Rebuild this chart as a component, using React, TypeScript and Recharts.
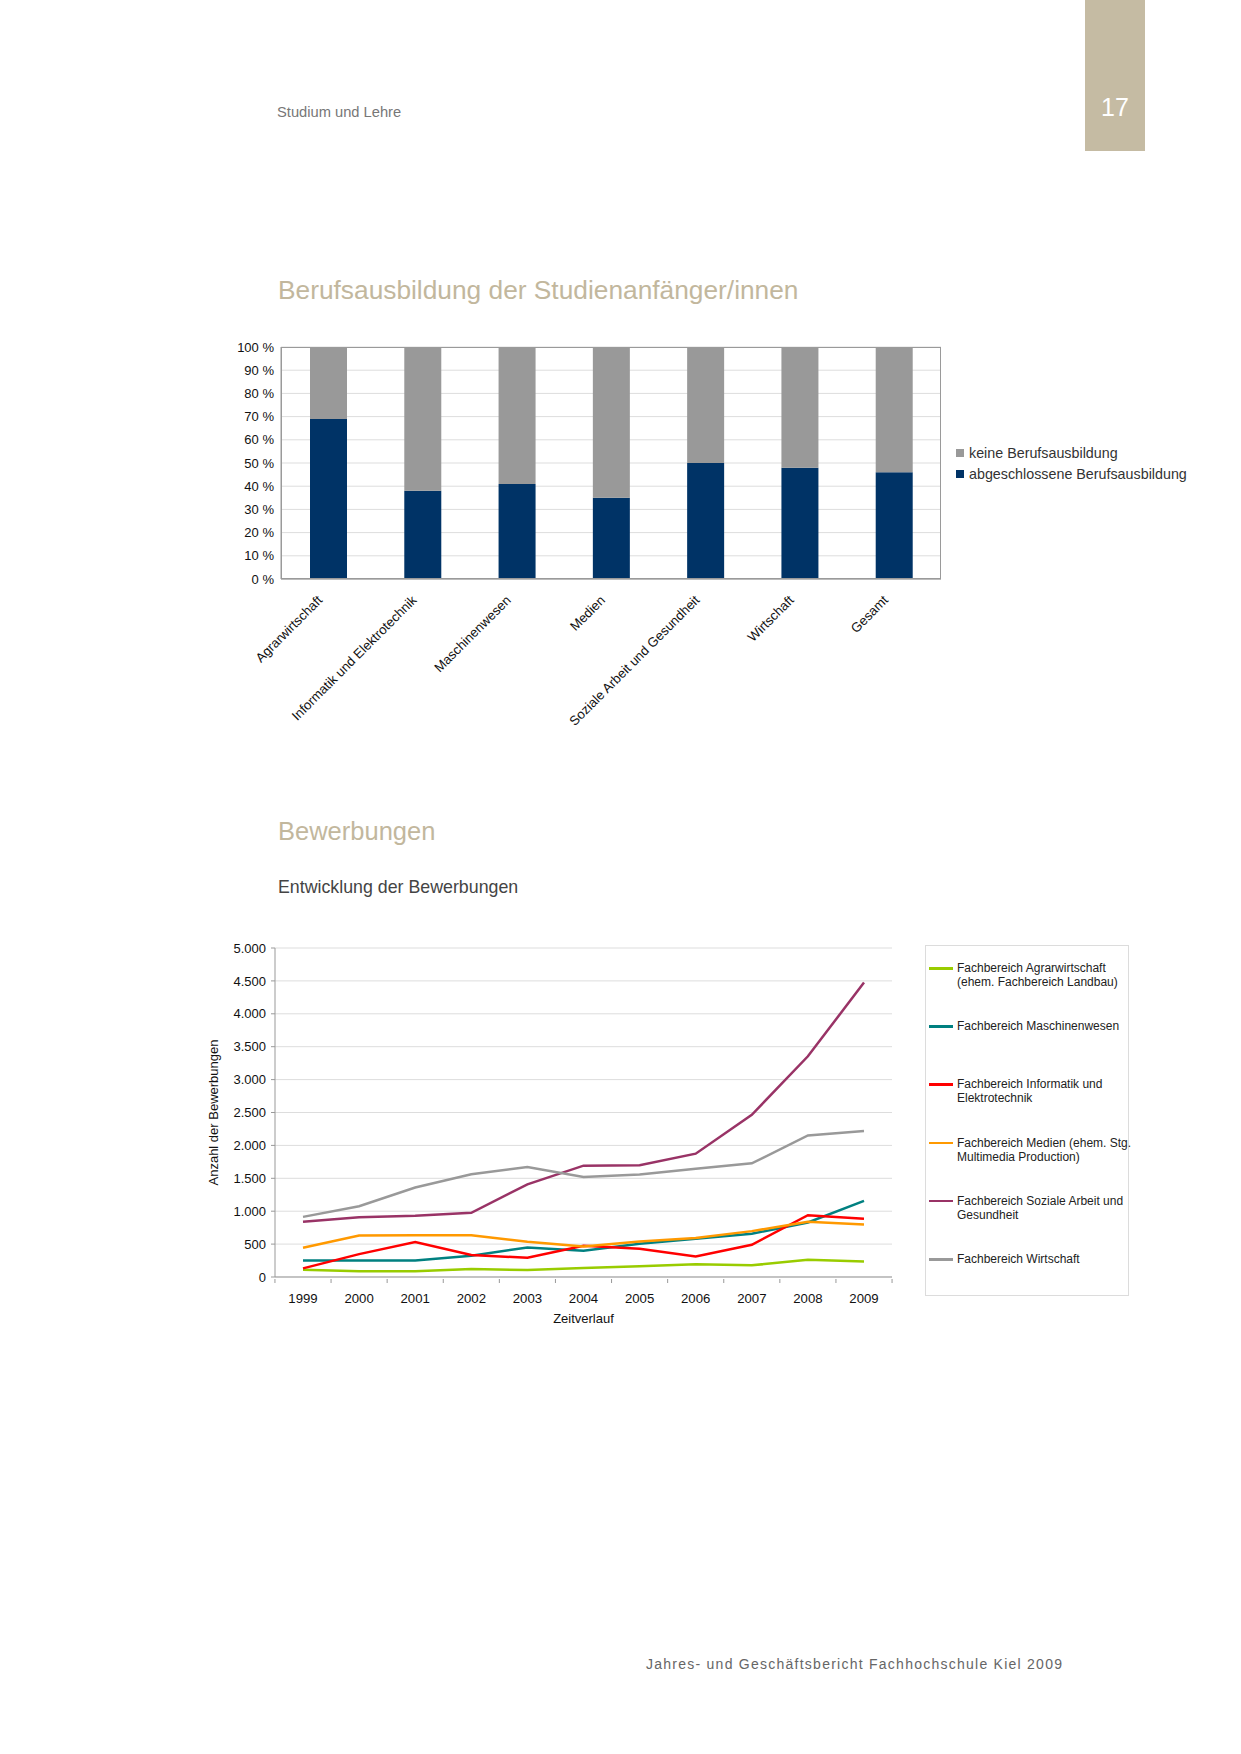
import React from "react";
import { BarChart, Bar, LineChart, Line, XAxis, YAxis, CartesianGrid } from "recharts";

// Berufsausbildung der Studienanfänger/innen (Anteile in %)
const faecher = [
  "Agrarwirtschaft",
  "Informatik und Elektrotechnik",
  "Maschinenwesen",
  "Medien",
  "Soziale Arbeit und Gesundheit",
  "Wirtschaft",
  "Gesamt",
];
const mitAusbildung = [69, 38, 41, 35, 50, 48, 46];
const ohneAusbildung = [31, 62, 59, 65, 50, 52, 54];
const prozentTicks = [0, 10, 20, 30, 40, 50, 60, 70, 80, 90, 100];

// Bewerbungen je Fachbereich
const jahre = ["1999", "2000", "2001", "2002", "2003", "2004", "2005", "2006", "2007", "2008", "2009"];
const agrar = [111, 86, 86, 121, 106, 136, 162, 192, 177, 263, 237];
const maschinen = [252, 252, 252, 323, 450, 399, 505, 581, 657, 828, 1157];
const informatik = [131, 348, 530, 333, 293, 475, 429, 313, 490, 939, 884];
const medien = [444, 631, 636, 636, 535, 465, 540, 591, 697, 838, 798];
const soziales = [838, 909, 929, 975, 1409, 1692, 1697, 1874, 2465, 3354, 4475];
const wirtschaft = [914, 1076, 1359, 1561, 1672, 1520, 1556, 1646, 1727, 2152, 2217];
const bewerbungTicks = [0, 500, 1000, 1500, 2000, 2500, 3000, 3500, 4000, 4500, 5000];

const barSeries = [
  { key: "ohne", name: "keine Berufsausbildung", color: "#999999" },
  { key: "mit", name: "abgeschlossene Berufsausbildung", color: "#003366" },
];

const lineSeries = [
  { key: "agrar", lines: ["Fachbereich Agrarwirtschaft", "(ehem. Fachbereich Landbau)"], color: "#99cc00" },
  { key: "maschinen", lines: ["Fachbereich Maschinenwesen"], color: "#008080" },
  { key: "informatik", lines: ["Fachbereich Informatik und", "Elektrotechnik"], color: "#ff0000" },
  { key: "medien", lines: ["Fachbereich Medien (ehem. Stg.", "Multimedia Production)"], color: "#ff9900" },
  { key: "soziales", lines: ["Fachbereich Soziale Arbeit und", "Gesundheit"], color: "#993366" },
  { key: "wirtschaft", lines: ["Fachbereich Wirtschaft"], color: "#999999" },
];

const font = "'Liberation Sans', Arial, sans-serif";
const beige = "#c2b79d";

const tausender = (v: number) =>
  v >= 1000 ? `${Math.floor(v / 1000)}.${String(v % 1000).padStart(3, "0")}` : String(v);

const SchraegTick = ({ x, y, payload }: any) => (
  <text
    x={x - 5}
    y={y + 20}
    transform={`rotate(-45, ${x - 5}, ${y + 20})`}
    textAnchor="end"
    fontSize={13.2}
    fontFamily={font}
    fill="#111"
  >
    {payload.value}
  </text>
);

const halbBand = 28.05;

const JahrTick = ({ x, y, payload, index }: any) => (
  <g>
    <line x1={x - halbBand} x2={x - halbBand} y1={y} y2={y + 4} stroke="#999" />
    {index === jahre.length - 1 && (
      <line x1={x + halbBand} x2={x + halbBand} y1={y} y2={y + 4} stroke="#999" />
    )}
    <text x={x} y={y + 24} textAnchor="middle" fontSize={13.2} fontFamily={font} fill="#111">
      {payload.value}
    </text>
  </g>
);

export default function App() {
  const barData = faecher.map((f, i) => ({ fach: f, mit: mitAusbildung[i], ohne: ohneAusbildung[i] }));
  const lineData = jahre.map((j, i) => ({
    jahr: j,
    agrar: agrar[i],
    maschinen: maschinen[i],
    informatik: informatik[i],
    medien: medien[i],
    soziales: soziales[i],
    wirtschaft: wirtschaft[i],
  }));

  return (
    <div style={{ position: "absolute", left: 0, top: 0, width: 1241, height: 1754, background: "#fff", fontFamily: font }}>
      {/* Kopfzeile */}
      <div style={{ position: "absolute", left: 277, top: 102, fontSize: 14.7, lineHeight: "20px", color: "#777" }}>
        Studium und Lehre
      </div>
      <div
        style={{
          position: "absolute",
          left: 1085,
          top: 0,
          width: 60,
          height: 151,
          background: "#c5bba3",
          color: "#fff",
          fontSize: 25,
          textAlign: "center",
        }}
      >
        <div style={{ position: "absolute", left: 0, right: 0, top: 92, lineHeight: "30px" }}>17</div>
      </div>

      <div style={{ position: "absolute", left: 278, top: 275, fontSize: 26.3, lineHeight: "30px", color: beige }}>
        Berufsausbildung der Studienanfänger/innen
      </div>

      {/* Balkendiagramm */}
      <div style={{ position: "absolute", left: 200, top: 330 }}>
        <BarChart width={760} height={400} data={barData} margin={{ top: 17, right: 19, left: 21, bottom: 11 }}>
          <CartesianGrid vertical={false} stroke="#dddddd" />
          <XAxis
            dataKey="fach"
            interval={0}
            height={140}
            tickSize={0}
            tickLine={false}
            axisLine={{ stroke: "#888" }}
            tick={<SchraegTick />}
          />
          <YAxis
            width={60}
            domain={[0, 100]}
            ticks={prozentTicks}
            interval={0}
            tickFormatter={(v: number) => `${v} %`}
            tickLine={false}
            tickSize={0}
            tickMargin={7}
            axisLine={{ stroke: "#999" }}
            tick={{ fontSize: 13, fill: "#111", fontFamily: font }}
          />
          {[...barSeries].reverse().map((s) => (
            <Bar key={s.key} dataKey={s.key} stackId="a" fill={s.color} barSize={37} isAnimationActive={false} />
          ))}
        </BarChart>
      </div>
      <div
        style={{
          position: "absolute",
          left: 281,
          top: 347,
          width: 660,
          height: 232,
          boxSizing: "border-box",
          border: "1px solid #9a9a9a",
          pointerEvents: "none",
        }}
      />
      <div style={{ position: "absolute", left: 956, top: 442 }}>
        {barSeries.map((s) => (
          <div key={s.key} style={{ display: "flex", alignItems: "center", height: 21, fontSize: 14.3, color: "#333" }}>
            <span style={{ width: 8, height: 8, background: s.color, marginRight: 5, display: "inline-block" }} />
            {s.name}
          </div>
        ))}
      </div>

      <div style={{ position: "absolute", left: 278, top: 816, fontSize: 25.5, lineHeight: "30px", color: beige }}>
        Bewerbungen
      </div>
      <div style={{ position: "absolute", left: 278, top: 876, fontSize: 17.8, lineHeight: "22px", color: "#444" }}>
        Entwicklung der Bewerbungen
      </div>

      {/* Liniendiagramm */}
      <div style={{ position: "absolute", left: 180, top: 920 }}>
        <LineChart width={740} height={420} data={lineData} margin={{ top: 28, right: 28, left: 35, bottom: 13 }}>
          <CartesianGrid vertical={false} stroke="#dddddd" />
          <XAxis
            dataKey="jahr"
            interval={0}
            height={50}
            padding={{ left: 28, right: 28 }}
            tickSize={0}
            tickLine={false}
            axisLine={{ stroke: "#999" }}
            tick={<JahrTick />}
            label={{ value: "Zeitverlauf", position: "insideBottom", offset: 4, fontSize: 13, fill: "#111", fontFamily: font }}
          />
          <YAxis
            width={60}
            domain={[0, 5000]}
            ticks={bewerbungTicks}
            interval={0}
            tickFormatter={tausender}
            tickSize={4}
            tickMargin={5}
            tickLine={{ stroke: "#999" }}
            axisLine={{ stroke: "#999" }}
            tick={{ fontSize: 13, fill: "#111", fontFamily: font }}
            label={{
              value: "Anzahl der Bewerbungen",
              angle: -90,
              position: "insideLeft",
              offset: -2,
              fontSize: 13,
              fill: "#111",
              fontFamily: font,
              style: { textAnchor: "middle" },
            }}
          />
          {lineSeries.map((s) => (
            <Line
              key={s.key}
              type="linear"
              dataKey={s.key}
              stroke={s.color}
              strokeWidth={2.5}
              dot={false}
              isAnimationActive={false}
            />
          ))}
        </LineChart>
      </div>
      <div
        style={{
          position: "absolute",
          left: 925,
          top: 945,
          width: 204,
          height: 351,
          boxSizing: "border-box",
          border: "1px solid #dcdcdc",
        }}
      >
        {lineSeries.map((s, i) => (
          <div key={s.key} style={{ position: "absolute", left: 3, top: 15 + i * 58.2, display: "flex", alignItems: "flex-start" }}>
            <span style={{ width: 24, height: 2.5, background: s.color, marginTop: 6, marginRight: 4, flex: "none" }} />
            <div style={{ fontSize: 12, lineHeight: "14px", color: "#222", whiteSpace: "nowrap" }}>
              {s.lines.map((l) => (
                <div key={l}>{l}</div>
              ))}
            </div>
          </div>
        ))}
      </div>

      {/* Fußzeile */}
      <div style={{ position: "absolute", left: 646, top: 1654, fontSize: 14, lineHeight: "20px", letterSpacing: 1.25, color: "#666" }}>
        Jahres- und Geschäftsbericht Fachhochschule Kiel 2009
      </div>
    </div>
  );
}
